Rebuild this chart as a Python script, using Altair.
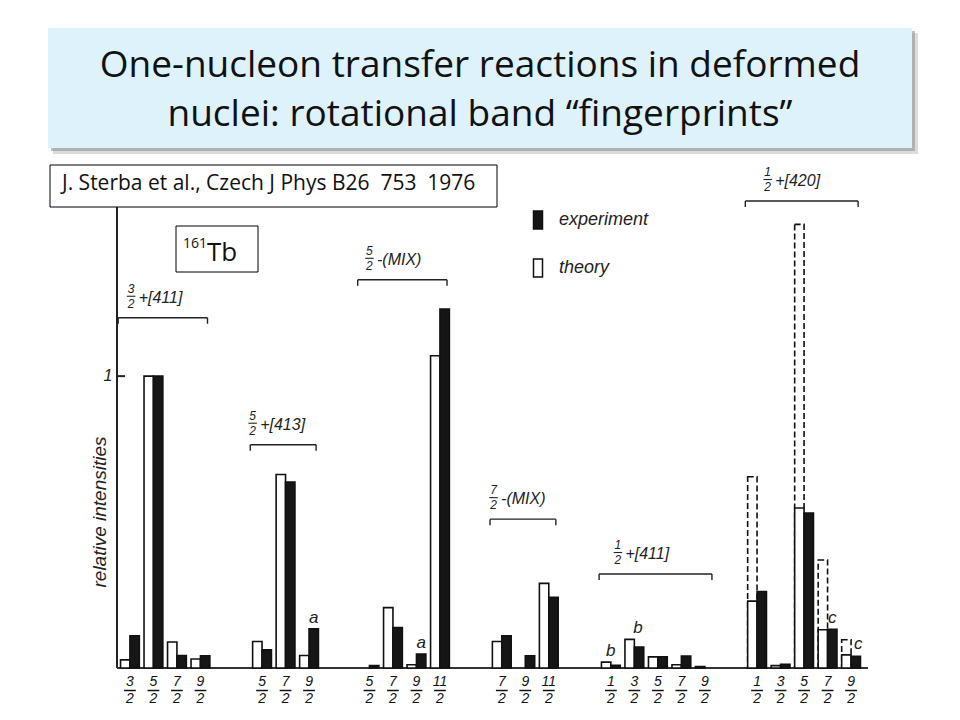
import altair as alt
import pandas as pd

# ---------------- data ----------------
band_spin = ["3/2", "5/2", "5/2", "7/2", "1/2", "1/2"]
band_tag = ["+[411]", "+[413]", "-(MIX)", "-(MIX)", "+[411]", "+[420]"]
band_levels = [
    ["3/2", "5/2", "7/2", "9/2"],
    ["5/2", "7/2", "9/2"],
    ["5/2", "7/2", "9/2", "11/2"],
    ["7/2", "9/2", "11/2"],
    ["1/2", "3/2", "5/2", "7/2", "9/2"],
    ["1/2", "3/2", "5/2", "7/2", "9/2"],
]
theory = [
    [0.028, 1.0, 0.089, 0.031],
    [0.091, 0.663, 0.043],
    [0.0, 0.207, 0.011, 1.07],
    [0.091, 0.0, 0.29],
    [0.02, 0.098, 0.038, 0.011, 0.005],
    [0.229, 0.008, 0.548, 0.131, 0.045],
]
experiment = [
    [0.11, 1.0, 0.043, 0.042],
    [0.062, 0.637, 0.134],
    [0.008, 0.139, 0.048, 1.23],
    [0.11, 0.042, 0.242],
    [0.009, 0.072, 0.038, 0.041, 0.0],
    [0.262, 0.013, 0.531, 0.133, 0.04],
]
# alternative (dashed) theory values, band 1/2+[420]
theory_alt = [
    [None] * 4, [None] * 3, [None] * 4, [None] * 3, [None] * 5,
    [0.655, None, 1.52, 0.37, 0.097],
]
note_letter = ["a", "a", "b", "b", "c", "c"]
note_band = [1, 2, 4, 4, 5, 5]
note_level = [2, 2, 0, 1, 3, 4]

title_lines = ["One-nucleon transfer reactions in deformed",
               "nuclei: rotational band \u201cfingerprints\u201d"]
ref_text = "J. Sterba et al., Czech J Phys B26\u00a0 753\u00a0 1976"
nucleus_mass = "161"
nucleus_sym = "Tb"
y_title = "relative intensities"

# ---------------- layout ----------------
group_offset = [0.0, 5.62, 10.19, 15.82, 20.46, 26.68]
bracket_height = [1.20, 0.765, 1.33, 0.51, 0.322, 1.60]
label_dx = [0.05, -0.4, 0.0, -0.35, 0.3, 0.45]
note_dx = [0.2, 0.2, 0.0, 0.15, 0.2, 0.3]
W, H = 751, 467
Y_MAX = 1.6
PX = H / Y_MAX
FIG_FONT = "Liberation Sans"
SLIDE_FONT = "Open Sans"

xs = alt.Scale(domain=[-0.55, 31.4], nice=False, zero=False)
ys = alt.Scale(domain=[0, Y_MAX], nice=False, zero=False)


def X(f):
    return alt.X(f, type="quantitative", scale=xs, axis=None)


def Y(f):
    return alt.Y(f, type="quantitative", scale=ys, axis=None)


# ---------------- tables ----------------
bar_rows, tick_rows, alt_rows = [], [], []
for b, levels in enumerate(band_levels):
    for i, lev in enumerate(levels):
        slot = group_offset[b] + i
        bar_rows.append(dict(slot=slot, kind="theory", value=theory[b][i]))
        bar_rows.append(dict(slot=slot, kind="experiment", value=experiment[b][i]))
        num, den = lev.split("/")
        tick_rows.append(dict(slot=slot, num=num, den=den))
        if theory_alt[b][i] is not None:
            alt_rows.append(dict(slot=slot, value=theory_alt[b][i]))
bars_df = pd.DataFrame(bar_rows)
bars_df = bars_df[bars_df.value > 0]
ticks_df = pd.DataFrame(tick_rows)
alt_df = pd.DataFrame(alt_rows)

band_rows, end_rows = [], []
for b, levels in enumerate(band_levels):
    first = group_offset[b]
    last = group_offset[b] + len(levels) - 1
    num, den = band_spin[b].split("/")
    band_rows.append(dict(left=first - 0.5, right=last + 0.3, h=bracket_height[b],
                          lx=first + label_dx[b], num=num, den=den, tag=band_tag[b]))
    for xe in (first - 0.5, last + 0.3):
        end_rows.append(dict(xe=xe, h=bracket_height[b]))
band_df = pd.DataFrame(band_rows)
end_df = pd.DataFrame(end_rows)

note_rows = []
for k, letter in enumerate(note_letter):
    b, i = note_band[k], note_level[k]
    note_rows.append(dict(x=group_offset[b] + i + note_dx[k],
                          y=max(theory[b][i], experiment[b][i]), t=letter))
notes_df = pd.DataFrame(note_rows)

one = pd.DataFrame({"k": [0]})
unit_df = pd.DataFrame({"v": [1.0], "t": ["1"]})

# ---------------- slide decorations ----------------
title_shadow2 = alt.Chart(one).mark_rect(color="#c4c4c4", opacity=0.6).encode(
    x=alt.value(-64), x2=alt.value(801), y=alt.value(-168), y2=alt.value(-47))
title_shadow = alt.Chart(one).mark_rect(color="#8c8c8c", opacity=0.55).encode(
    x=alt.value(-66), x2=alt.value(798), y=alt.value(-170), y2=alt.value(-50))
title_box = alt.Chart(one).mark_rect(color="#ddf2fb").encode(
    x=alt.value(-69), x2=alt.value(795), y=alt.value(-173), y2=alt.value(-53))
title1 = alt.Chart(one).mark_text(font=SLIDE_FONT, fontSize=37, color="#111",
                                  align="center", baseline="alphabetic").encode(
    x=alt.value(363), y=alt.value(-124), text=alt.value(title_lines[0]))
title2 = alt.Chart(one).mark_text(font=SLIDE_FONT, fontSize=37, color="#111",
                                  align="center", baseline="alphabetic").encode(
    x=alt.value(363), y=alt.value(-75), text=alt.value(title_lines[1]))

ref_box = alt.Chart(one).mark_rect(fill="white", stroke="black", strokeWidth=1).encode(
    x=alt.value(-67), x2=alt.value(380), y=alt.value(-36), y2=alt.value(6))
ref_label = alt.Chart(one).mark_text(font=SLIDE_FONT, fontSize=21, color="#111",
                                     align="left", baseline="alphabetic").encode(
    x=alt.value(-55), y=alt.value(-11), text=alt.value(ref_text))

tb_box = alt.Chart(one).mark_rect(fill="white", stroke="black", strokeWidth=1).encode(
    x=alt.value(59), x2=alt.value(141), y=alt.value(25), y2=alt.value(71))
tb_mass = alt.Chart(one).mark_text(font=SLIDE_FONT, fontSize=14, color="#111",
                                   align="left", baseline="alphabetic").encode(
    x=alt.value(66), y=alt.value(47), text=alt.value(nucleus_mass))
tb_sym = alt.Chart(one).mark_text(font=SLIDE_FONT, fontSize=26, color="#111",
                                  align="left", baseline="alphabetic").encode(
    x=alt.value(90), y=alt.value(60), text=alt.value(nucleus_sym))

# ---------------- axes ----------------
y_axis = alt.Chart(one).mark_rule(color="#222", strokeWidth=2).encode(
    x=alt.value(0), y=alt.value(4), y2=alt.value(H))
baseline = alt.Chart(one).mark_rule(color="#333", strokeWidth=2).encode(
    x=alt.value(0), x2=alt.value(W), y=alt.value(H))
unit_tick = alt.Chart(unit_df).mark_rule(color="#222", strokeWidth=2).encode(
    x=alt.value(0), x2=alt.value(8), y=Y("v"))
unit_label = alt.Chart(unit_df).mark_text(font=FIG_FONT, fontStyle="italic", fontSize=16,
                                          color="#222", align="center", baseline="middle").encode(
    x=alt.value(-9), y=Y("v"), text="t:N")
axis_title = alt.Chart(one).mark_text(font=FIG_FONT, fontStyle="italic", fontSize=19,
                                      color="#222", angle=270, align="center",
                                      baseline="middle").encode(
    x=alt.value(-17), y=alt.value(311), text=alt.value(y_title))

tick_num = alt.Chart(ticks_df).mark_text(font=FIG_FONT, fontStyle="italic", fontSize=14,
                                         color="#111", baseline="middle").encode(
    x=X("slot"), y=alt.value(H + 14), text="num:N")
tick_den = alt.Chart(ticks_df).mark_text(font=FIG_FONT, fontStyle="italic", fontSize=14,
                                         color="#111", baseline="middle").encode(
    x=X("slot"), y=alt.value(H + 31), text="den:N")
tick_bar = alt.Chart(ticks_df).transform_calculate(
    a="datum.slot - 0.25", b="datum.slot + 0.25").mark_rule(color="#111", strokeWidth=1.5).encode(
    x=X("a:Q"), x2="b:Q", y=alt.value(H + 22.5))

# ---------------- bars ----------------
dashed = alt.Chart(alt_df).transform_calculate(
    a="datum.slot - 0.4", b="datum.slot", z="0").mark_bar(
    fill="white", fillOpacity=0, stroke="#111", strokeWidth=1.6, strokeDash=[6, 3]).encode(
    x=X("a:Q"), x2="b:Q", y=Y("value:Q"), y2="z:Q")

bars = alt.Chart(bars_df).transform_calculate(
    a="datum.kind == 'theory' ? datum.slot - 0.4 : datum.slot",
    b="datum.kind == 'theory' ? datum.slot : datum.slot + 0.4",
    z="0").mark_bar(stroke="#111", strokeWidth=1.6).encode(
    x=X("a:Q"), x2="b:Q", y=Y("value:Q"), y2="z:Q",
    color=alt.Color("kind:N",
                    scale=alt.Scale(domain=["experiment", "theory"], range=["#161616", "#ffffff"]),
                    legend=alt.Legend(orient="none", legendX=410, legendY=8, title=None,
                                      symbolType="M-0.45,-0.9H0.45V0.9H-0.45Z", symbolSize=400,
                                      symbolStrokeColor="#111", symbolStrokeWidth=1.5,
                                      labelFont=FIG_FONT, labelFontStyle="italic",
                                      labelFontSize=18, labelColor="#222", labelOffset=10,
                                      rowPadding=24, padding=0)))

# ---------------- band brackets & labels ----------------
bracket = alt.Chart(band_df).mark_rule(color="#222", strokeWidth=1.4).encode(
    x=X("left:Q"), x2="right:Q", y=Y("h:Q"))
bracket_end = alt.Chart(end_df).transform_calculate(
    h2=f"datum.h - {6 / PX}").mark_rule(color="#222", strokeWidth=1.4).encode(
    x=X("xe:Q"), y=Y("h:Q"), y2="h2:Q")
band_num = alt.Chart(band_df).mark_text(font=FIG_FONT, fontStyle="italic", fontSize=12,
                                        color="#222", baseline="middle", dy=-29).encode(
    x=X("lx:Q"), y=Y("h:Q"), text="num:N")
band_den = alt.Chart(band_df).mark_text(font=FIG_FONT, fontStyle="italic", fontSize=12,
                                        color="#222", baseline="middle", dy=-14).encode(
    x=X("lx:Q"), y=Y("h:Q"), text="den:N")
band_bar = alt.Chart(band_df).transform_calculate(
    a="datum.lx - 0.18", b="datum.lx + 0.18", hy=f"datum.h + {21.5 / PX}").mark_rule(
    color="#222", strokeWidth=1.1).encode(x=X("a:Q"), x2="b:Q", y=Y("hy:Q"))
band_tag_t = alt.Chart(band_df).transform_calculate(tx="datum.lx + 0.32").mark_text(
    font=FIG_FONT, fontStyle="italic", fontSize=16, color="#222", align="left",
    baseline="middle", dy=-20).encode(x=X("tx:Q"), y=Y("h:Q"), text="tag:N")

notes = alt.Chart(notes_df).mark_text(font=FIG_FONT, fontStyle="italic", fontSize=17,
                                      color="#222", baseline="middle", dy=-11).encode(
    x=X("x:Q"), y=Y("y:Q"), text="t:N")

chart = alt.layer(
    title_shadow2, title_shadow, title_box, title1, title2,
    y_axis, baseline, unit_tick, unit_label, axis_title,
    dashed, bars,
    tick_num, tick_den, tick_bar,
    bracket, bracket_end, band_num, band_den, band_bar, band_tag_t,
    notes,
    ref_box, ref_label, tb_box, tb_mass, tb_sym,
).properties(
    width=W, height=H,
    autosize=alt.AutoSizeParams(type="none"),
    padding={"left": 109, "top": 193, "right": 84, "bottom": 44},
    background="white",
).configure_view(strokeWidth=0)

chart.save("out.html", embed_options={"renderer": "svg", "actions": False})
